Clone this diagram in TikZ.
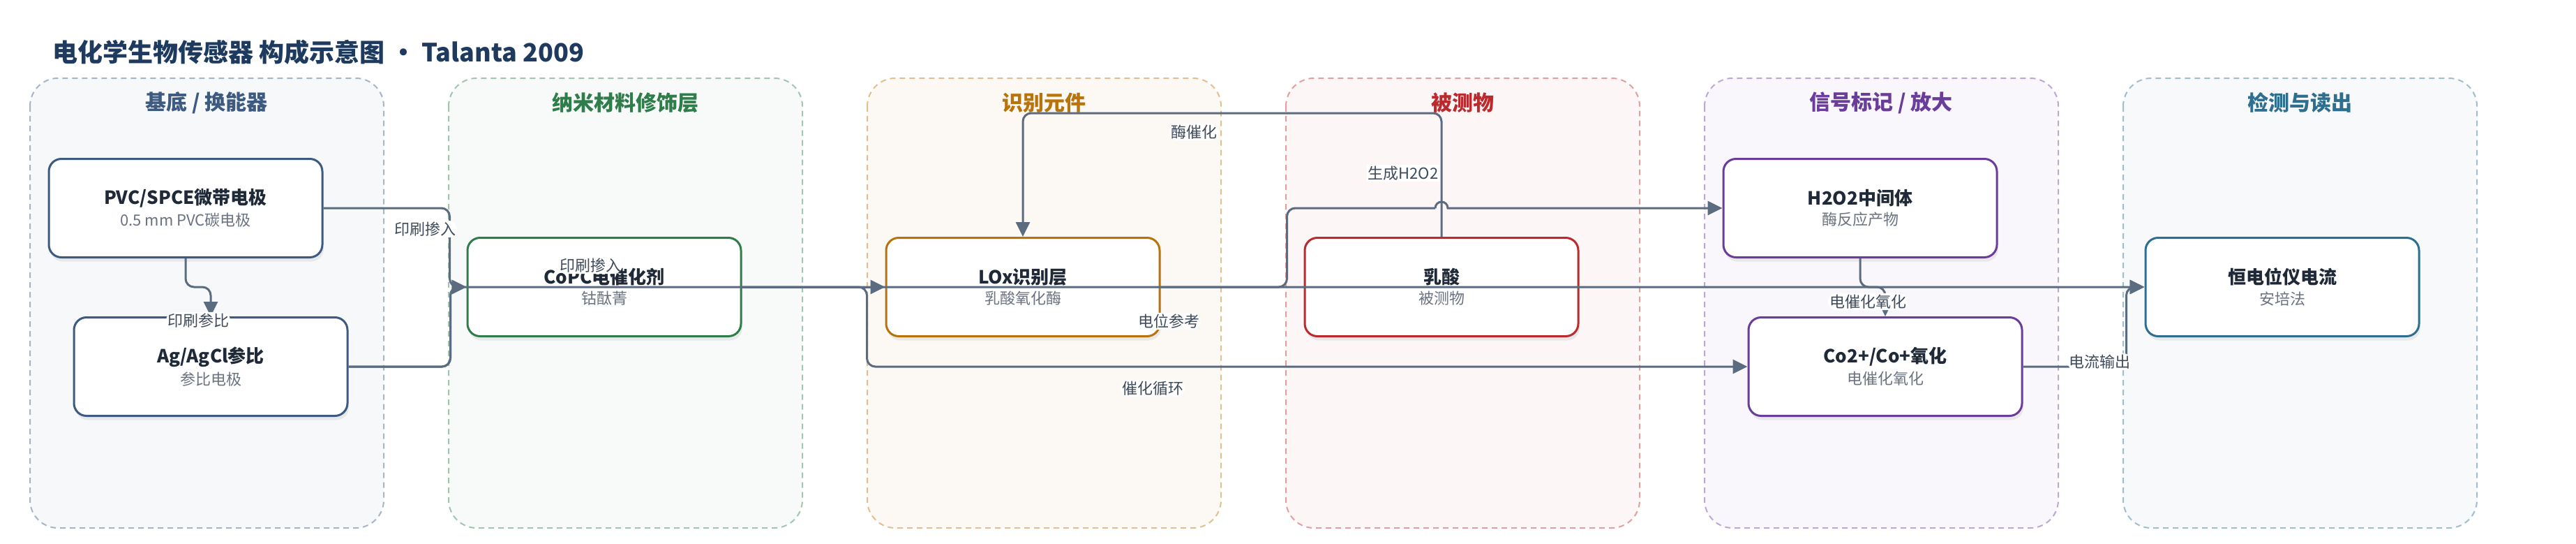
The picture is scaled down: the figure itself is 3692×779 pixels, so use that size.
\documentclass[tikz,border=0pt]{standalone}
\usepackage{fontspec}
\setmainfont{Noto Sans CJK SC}
\usetikzlibrary{arrows.meta,shadows,positioning}

\definecolor{ink}{HTML}{1E3A5F}
\definecolor{wire}{HTML}{5B6B80}
\definecolor{tagc}{HTML}{3F4A5A}
\definecolor{subc}{HTML}{6B7280}
\definecolor{headc}{HTML}{1F2937}
\definecolor{c1}{HTML}{3D5A80}
\definecolor{c2}{HTML}{2E7D4A}
\definecolor{c3}{HTML}{B8730A}
\definecolor{c4}{HTML}{BC2A2E}
\definecolor{c5}{HTML}{6A3D9A}
\definecolor{c6}{HTML}{2E6E8E}

\newcommand{\boxlines}[2]{{\bfseries\fontsize{26}{30}\selectfont\color{headc}#1}\\[7pt]{\fontsize{22}{26}\selectfont\color{subc}#2}}

\begin{document}
\begin{tikzpicture}[x=1pt, y=-1pt, node distance=600pt,
  lane/.style={dash pattern=on 8pt off 6pt, line width=2pt, rounded corners=40pt},
  box/.style={shape=rectangle, draw=#1, fill=white, line width=3pt, rounded corners=18pt,
    minimum width=392pt, minimum height=141pt, align=center,
    drop shadow={opacity=0.13, shadow xshift=2pt, shadow yshift=-6pt}},
  flow/.style={draw=wire, line width=3pt, rounded corners=12pt, -{Triangle[length=21pt,width=20pt]}},
  tag/.style={fill=white, text=tagc, inner sep=2pt, font=\fontsize{22}{26}\selectfont}]
\fill[white] (0,0) rectangle (3692,779);
\useasboundingbox (0,0) rectangle (3692,779);

\node[anchor=west, text=ink, font=\bfseries\fontsize{36}{40}\selectfont] (title) at (72,75)
  {电化学生物传感器 构成示意图 · Talanta 2009};

% lanes
\foreach \i/\name/\col in {0/{基底 / 换能器}/c1, 1/纳米材料修饰层/c2, 2/识别元件/c3,
    3/被测物/c4, 4/{信号标记 / 放大}/c5, 5/检测与读出/c6} {
  \draw[lane, draw=\col!45, fill=\col!4] (43+600*\i,112) rectangle ++(507,644);
  \node[text=\col, font=\bfseries\fontsize{30}{34}\selectfont] (T\i) at (296+600*\i,147) {\name};
}

% blocks
\node[box=c1] (PVC) at (266,298) {\boxlines{PVC/SPCE微带电极}{0.5 mm PVC碳电极}};
\node[box=c1, below of=PVC, node distance=227pt, xshift=36pt] (AgCl) {\boxlines{Ag/AgCl参比}{参比电极}};
\node[box=c2] (CoPC) at (866,411) {\boxlines{CoPC电催化剂}{钴酞菁}};
\node[box=c3, right of=CoPC] (LOx) {\boxlines{LOx识别层}{乳酸氧化酶}};
\node[box=c4, right of=LOx] (Lac) {\boxlines{乳酸}{被测物}};
\node[box=c5, right of=Lac, yshift=113pt] (H2O2) {\boxlines{H2O2中间体}{酶反应产物}};
\node[box=c5, below of=H2O2, node distance=227pt, xshift=36pt] (CoOx) {\boxlines{Co2+/Co+氧化}{电催化氧化}};
\node[box=c6, right of=Lac, node distance=1205pt] (Pstat) {\boxlines{恒电位仪电流}{安培法}};

% connectors
\draw[flow] (AgCl.east) -- ++(146,0) |- (Pstat.west) node[tag] (l6) at (1675,460) {电位参考};
\draw[flow] (PVC.east) -- ++(181,0) |- (CoPC.west) node[tag] (l1) at (609,328) {印刷掺入};
\draw[flow] (AgCl.east) -- ++(146,0) |- (CoPC.west) node[tag] (l2) at (846,380) {印刷掺入};
\draw[flow] (PVC.south) -- ++(0,41) -| (AgCl.north) node[tag] (l3) at (284,459) {印刷参比};
\draw[flow] (CoPC.east) -- (LOx.west);
\draw[flow] (CoPC.east) -- ++(179,0) |- (CoOx.west) node[tag] (l8) at (1652,556) {催化循环};
\draw[flow] (Lac.north) -- ++(0,-177) -| (LOx.north) node[tag] (l4) at (1711,189) {酶催化};
\draw[flow, -] (LOx.east) -- ++(181,0) |- (2057,298) coordinate (hop);
\draw[flow, sharp corners] (hop) arc[start angle=180, end angle=0, radius=9pt] -- (H2O2.west)
  node[tag] (l5) at (2011,248) {生成H2O2};
\draw[flow] (H2O2.south) -- ++(0,41) -| (CoOx.north) node[tag] (l9) at (2677,432) {电催化氧化};
\draw[flow] (CoOx.east) -- ++(148,0) |- (Pstat.west) node[tag] (l10) at (3009,518) {电流输出};
\end{tikzpicture}
\end{document}
